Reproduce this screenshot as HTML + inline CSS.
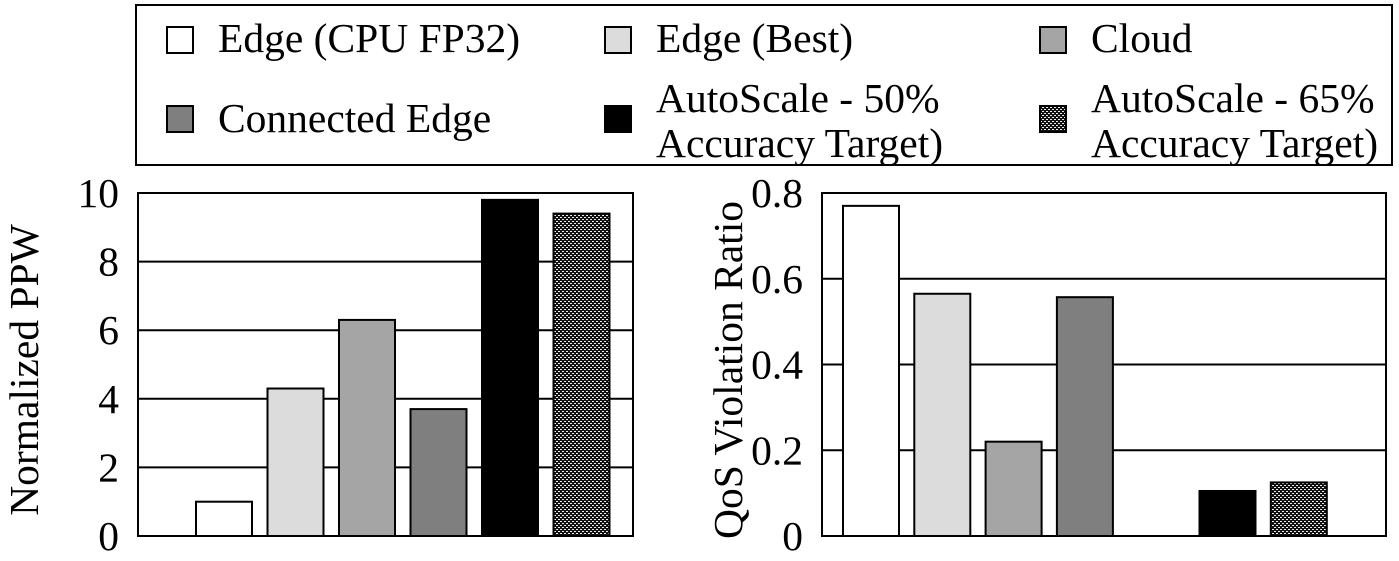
<!DOCTYPE html>
<html><head><meta charset="utf-8"><style>
body{margin:0;background:#fff;width:1399px;height:556px;overflow:hidden;font-family:"Liberation Serif",serif}
</style></head><body>
<svg width="1399" height="556" xmlns="http://www.w3.org/2000/svg" font-family="Liberation Serif, serif">
<defs>
<pattern id="hatch" width="4" height="4" patternUnits="userSpaceOnUse">
<rect width="4" height="4" fill="#111"/><rect x="0" y="1" width="2" height="1" fill="#eee"/><rect x="2" y="3" width="2" height="1" fill="#eee"/>
</pattern>
</defs>
<g>
<rect x="136" y="5" width="1256" height="160" fill="#fff" stroke="#000" stroke-width="2"/>
<g font-size="41.5">
<rect x="167" y="27" width="26" height="26" fill="#fff" stroke="#000" stroke-width="2"/><text x="218" y="52">Edge (CPU FP32)</text>
<rect x="605" y="27" width="26" height="26" fill="#dcdcdc" stroke="#000" stroke-width="2"/><text x="656" y="52">Edge (Best)</text>
<rect x="1040" y="27" width="26" height="26" fill="#a5a5a5" stroke="#000" stroke-width="2"/><text x="1091" y="52">Cloud</text>
<rect x="167" y="106" width="26" height="26" fill="#7f7f7f" stroke="#000" stroke-width="2"/><text x="218" y="132">Connected Edge</text>
<rect x="605" y="106" width="26" height="26" fill="#000" stroke="#000" stroke-width="2"/><text x="656" y="112">AutoScale - 50%</text><text x="656" y="157">Accuracy Target)</text>
<rect x="1040" y="106" width="26" height="26" fill="url(#hatch)" stroke="#000" stroke-width="2"/><text x="1091" y="112">AutoScale - 65%</text><text x="1091" y="157">Accuracy Target)</text>
</g></g>
<g id="c1"></g>
<g id="c2"></g>
</svg>
<script>
const categories=["Edge (CPU FP32)","Edge (Best)","Cloud","Connected Edge","AutoScale - 50%","AutoScale - 65%"];
const ppwValues=[1.0,4.3,6.3,3.7,9.8,9.4];
const qosValues=[0.77,0.565,0.22,0.557,0.105,0.125];
const ppwTicks=["0","2","4","6","8","10"];
const qosTicks=["0","0.2","0.4","0.6","0.8"];
const fills=["#fff","#dcdcdc","#a5a5a5","#7f7f7f","#000","url(#hatch)"];
const NS="http://www.w3.org/2000/svg";
function mk(p,t,a){const e=document.createElementNS(NS,t);for(const k in a)e.setAttribute(k,a[k]);p.appendChild(e);return e;}
function chart(g,x0,x1,maxV,ticks,vals,slots,title,titleX){
  const y0=536,yT=193;const ys=v=>y0-(v/maxV)*(y0-yT);
  ticks.forEach(t=>{const v=parseFloat(t);const y=ys(v);
    if(v>0&&v<maxV){const l=mk(g,'line',{x1:x0,x2:x1,y1:y,y2:y,stroke:'#000','stroke-width':2});}
    const tx=mk(g,'text',{x:x0-19,y:y+14,'font-size':41.5,'text-anchor':'end'});tx.textContent=t;
    });
  vals.forEach((v,i)=>{const bx=slots(i);const r=mk(g,'rect',{x:bx,y:ys(v),width:56,height:y0-ys(v),fill:fills[i],stroke:'#000','stroke-width':2});
    });
  const b=mk(g,'rect',{x:x0,y:yT,width:x1-x0,height:y0-yT,fill:'none',stroke:'#000','stroke-width':2});
  
  const tt=mk(g,'text',{x:titleX,y:370,'font-size':41.5,'text-anchor':'middle',transform:`rotate(-90 ${titleX} 370)`});tt.textContent=title;
  
}
chart(document.getElementById('c1'),138,633,10,ppwTicks,ppwValues,i=>196+i*71.5,"Normalized PPW",38);
chart(document.getElementById('c2'),822,1386,0.8,qosTicks,qosValues,i=>843+(i>=4?i+1:i)*71.3,"QoS Violation Ratio",742);
</script>
</body></html>
